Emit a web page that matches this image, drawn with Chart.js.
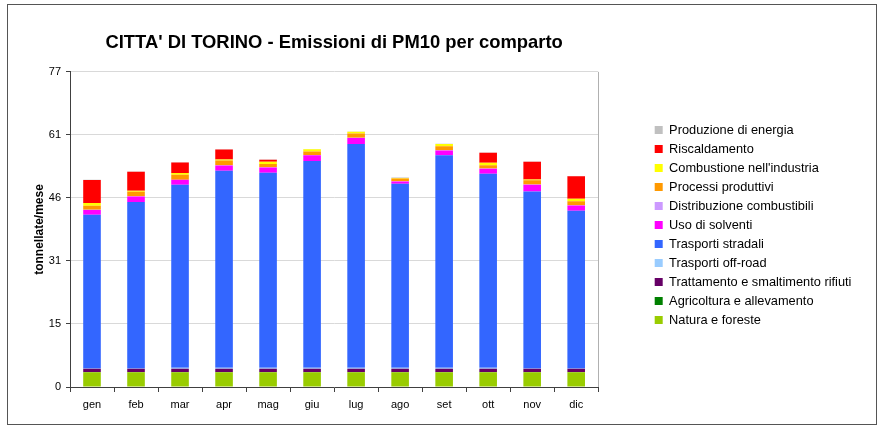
<!DOCTYPE html>
<html>
<head>
<meta charset="utf-8">
<script src="https://cdn.jsdelivr.net/npm/chart.js@4.4.1/dist/chart.umd.min.js"></script>
<style>
  html, body { margin: 0; padding: 0; background: #ffffff; }
  #wrap { width: 883px; height: 431px; position: relative; }
</style>
</head>
<body>
<div id="wrap"><canvas id="c" width="883" height="431"></canvas></div>
<script>
// ---- data ----
const months = ['gen','feb','mar','apr','mag','giu','lug','ago','set','ott','nov','dic'];
const yTickLabels = ['0','15','31','46','61','77'];

const naturaForeste      = [3.6,3.6,3.6,3.6,3.6,3.6,3.6,3.6,3.6,3.6,3.6,3.6];
const agricoltura        = [0.05,0.05,0.05,0.05,0.05,0.05,0.05,0.05,0.05,0.05,0.05,0.05];
const trattamentoRifiuti = [0.8,0.8,0.8,0.8,0.8,0.8,0.8,0.8,0.8,0.8,0.8,0.8];
const trasportiOffRoad   = [0.05,0.05,0.25,0.25,0.25,0.25,0.25,0.25,0.25,0.25,0.05,0.05];
const trasportiStradali  = [37.3,40.4,44.4,47.8,47.3,50.2,54.3,44.65,51.6,47.1,43.0,38.3];
const usoSolventi        = [1.2,1.35,1.2,1.3,1.3,1.36,1.46,0.56,1.12,1.2,1.63,1.29];
const distribuzioneComb  = [0.05,0.05,0.05,0.05,0.05,0.05,0.05,0.05,0.05,0.05,0.05,0.05];
const processiProduttivi = [0.97,1.1,1.2,1.15,0.8,0.9,1.04,0.65,0.97,0.8,1.0,0.97];
const combustioneInd     = [0.65,0.25,0.4,0.25,0.56,0.5,0.41,0.17,0.58,0.58,0.2,0.58];
const riscaldamento      = [5.6,4.6,2.57,2.4,0.45,0,0,0,0,2.43,4.3,5.49];
const produzioneEnergia  = [0.08,0.1,0.08,0.08,0.08,0.08,0.08,0.08,0.08,0.08,0.08,0.08];

const seriesNames = ['Natura e foreste','Agricoltura e allevamento','Trattamento e smaltimento rifiuti',
  'Trasporti off-road','Trasporti stradali','Uso di solventi','Distribuzione combustibili',
  'Processi produttivi','Combustione nell\'industria','Riscaldamento','Produzione di energia'];
const seriesValues = [naturaForeste, agricoltura, trattamentoRifiuti, trasportiOffRoad, trasportiStradali,
  usoSolventi, distribuzioneComb, processiProduttivi, combustioneInd, riscaldamento, produzioneEnergia];
const seriesColors = ['#99CC00','#008000','#660066','#99CCFF','#3366FF','#FF00FF','#CC99FF',
  '#FF9900','#FFFF00','#FF0000','#C0C0C0'];

const FONT = "'Liberation Sans', Arial, sans-serif";

const datasets = seriesNames.map((n, i) => ({
  label: n,
  data: seriesValues[i],
  backgroundColor: seriesColors[i],
  borderWidth: 0,
  categoryPercentage: 1.0,
  barPercentage: 0.4
}));

const framePlugin = {
  id: 'frame',
  beforeDraw(chart) {
    const ctx = chart.ctx;
    ctx.save();
    ctx.fillStyle = '#ffffff';
    ctx.fillRect(0, 0, chart.width, chart.height);
    ctx.restore();
  },
  afterDatasetsDraw(chart) {
    // plot-area right border
    const ctx = chart.ctx, a = chart.chartArea;
    ctx.save();
    ctx.strokeStyle = '#b0b0b0';
    ctx.lineWidth = 1;
    const x = Math.round(a.right) + 0.5;
    ctx.beginPath();
    ctx.moveTo(x, a.top);
    ctx.lineTo(x, a.bottom);
    ctx.stroke();
    ctx.restore();
  },
  afterDraw(chart) {
    const ctx = chart.ctx;
    ctx.save();
    ctx.strokeStyle = '#555555';
    ctx.lineWidth = 1;
    ctx.strokeRect(7.5, 4.5, 869, 420);
    ctx.restore();
  }
};

new Chart(document.getElementById('c'), {
  type: 'bar',
  data: { labels: months, datasets },
  plugins: [framePlugin],
  options: {
    responsive: false,
    animation: false,
    layout: { padding: { top: 0, left: 0, right: 21.6, bottom: 0 } },
    plugins: {
      title: {
        display: true,
        fullSize: false,
        text: "CITTA' DI TORINO - Emissioni di PM10 per comparto",
        color: '#000000',
        font: { family: FONT, size: 18.4, weight: 'bold' },
        padding: { top: 31.5, bottom: 18.4 }
      },
      legend: {
        display: true,
        position: 'right',
        align: 'start',
        fullSize: false,
        reverse: true,
        title: { display: true, text: ' ', font: { family: FONT, size: 10 }, padding: { top: 33.4, bottom: 0 } },
        labels: {
          boxWidth: 8,
          boxHeight: 8,
          padding: 6.2,
          color: '#000000',
          font: { family: FONT, size: 12.8 }
        }
      },
      tooltip: { enabled: false }
    },
    scales: {
      x: {
        stacked: true,
        offset: true,
        grid: {
          display: true,
          offset: true,
          drawOnChartArea: false,
          drawTicks: true,
          tickLength: 5,
          tickColor: '#404040'
        },
        border: { display: true, color: '#404040', width: 1 },
        ticks: { color: '#000000', font: { family: FONT, size: 11 }, padding: 6, maxRotation: 0 },
        afterFit: s => { s.height = 44; }
      },
      y: {
        stacked: true,
        min: 0,
        max: 76.5,
        ticks: {
          stepSize: 15.3,
          color: '#000000',
          font: { family: FONT, size: 11 },
          padding: 5,
          callback: (v, i) => yTickLabels[i]
        },
        grid: {
          color: c => (c.index === 0 ? 'rgba(0,0,0,0)' : '#d9d9d9'),
          drawTicks: true,
          tickLength: 4,
          tickColor: '#404040'
        },
        border: { display: true, color: '#404040', width: 1 },
        title: {
          display: true,
          text: 'tonnellate/mese',
          color: '#000000',
          font: { family: FONT, size: 12, weight: 'bold' },
          padding: { top: 32, bottom: 0 }
        },
        afterFit: s => { s.width = 70; }
      },
      yGap: {
        type: 'linear',
        position: 'right',
        display: false,
        afterFit: s => { s.width = 50.3; }
      }
    }
  }
});
</script>
</body>
</html>
